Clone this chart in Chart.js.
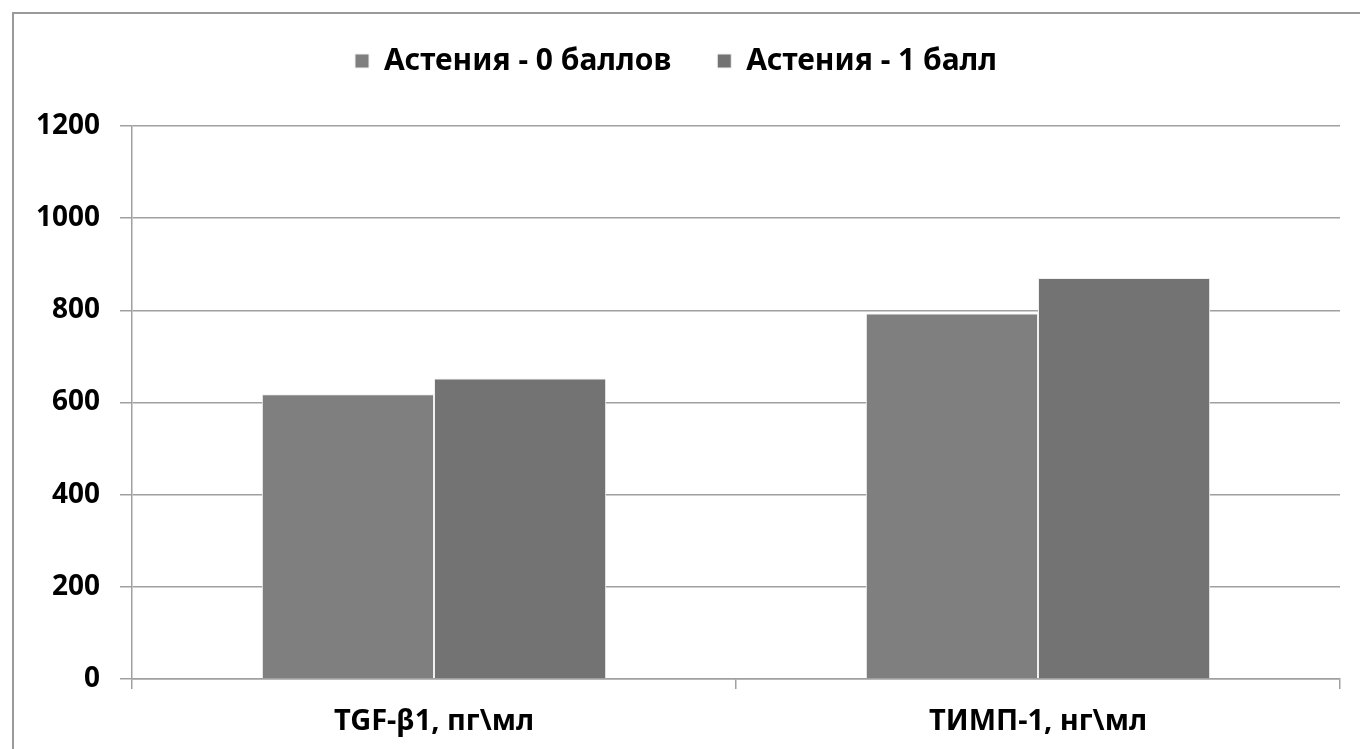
<!DOCTYPE html>
<html>
<head>
<meta charset="utf-8">
<script src="https://cdn.jsdelivr.net/npm/chart.js@4.4.1/dist/chart.umd.min.js"></script>
<style>
html,body{margin:0;padding:0;background:#fff;}
#wrap{width:1360px;height:749px;position:relative;}
</style>
</head>
<body>
<div id="wrap"><canvas id="c" width="1360" height="749"></canvas></div>
<script>
const categories = ['TGF-β1, пг\\мл', 'ТИМП-1, нг\\мл'];
const seriesNames = ['Астения - 0 баллов', 'Астения - 1 балл'];
const series0 = [618, 793];
const series1 = [652, 870];
const yTicks = [0, 200, 400, 600, 800, 1000, 1200];

const FONT = '"Noto Sans", "DejaVu Sans", sans-serif';

const framePlugin = {
  id: 'frame',
  beforeDraw(chart) {
    const ctx = chart.ctx;
    ctx.save();
    ctx.fillStyle = '#fff';
    ctx.fillRect(0, 0, chart.width, chart.height);
    ctx.strokeStyle = '#9a9a9a';
    ctx.lineWidth = 2;
    ctx.beginPath();
    ctx.moveTo(13, chart.height);
    ctx.lineTo(13, 13);
    ctx.lineTo(chart.width, 13);
    ctx.stroke();
    ctx.restore();
  }
};

new Chart(document.getElementById('c'), {
  type: 'bar',
  data: {
    labels: categories,
    datasets: [
      { label: seriesNames[0], data: series0, backgroundColor: '#7f7f7f', borderColor: '#f0f0f0', borderWidth: 1, borderSkipped: 'bottom' },
      { label: seriesNames[1], data: series1, backgroundColor: '#737373', borderColor: '#f0f0f0', borderWidth: 1, borderSkipped: 'bottom' }
    ]
  },
  options: {
    responsive: false,
    animation: false,
    devicePixelRatio: 1,
    layout: { padding: { left: 12, right: 20, top: 0, bottom: 0 } },
    datasets: { bar: { categoryPercentage: 0.57, barPercentage: 1.0 } },
    plugins: {
      legend: {
        position: 'top',
        labels: {
          color: '#000',
          font: { family: FONT, size: 30, weight: 'bold' },
          boxWidth: 14, boxHeight: 14, padding: 46
        }
      },
      title: {
        display: true, text: '', weight: 100, position: 'top',
        font: { size: 1, lineHeight: 1 },
        padding: { top: 0, bottom: 39 }
      },
      tooltip: { enabled: false }
    },
    scales: {
      x: {
        afterFit(s) { s.height = 70; },
        grid: { offset: true, drawOnChartArea: false, drawTicks: true, tickLength: 10, color: '#a0a0a0', lineWidth: 1.5 },
        border: { display: true, color: '#a0a0a0', width: 1.5 },
        ticks: { color: '#000', font: { family: FONT, size: 29, weight: 'bold' }, padding: 15 }
      },
      y: {
        min: 0, max: 1200,
        afterFit(s) { s.width = 120; },
        afterBuildTicks(s) { s.ticks = yTicks.map(v => ({ value: v })); },
        grid: { color: '#a0a0a0', lineWidth: 1.5, tickLength: 12 },
        border: { display: true, color: '#a0a0a0', width: 1.5 },
        ticks: { color: '#000', font: { family: FONT, size: 28, weight: 'bold' }, padding: 20, callback: v => String(v) }
      }
    }
  },
  plugins: [framePlugin]
});
</script>
</body>
</html>
